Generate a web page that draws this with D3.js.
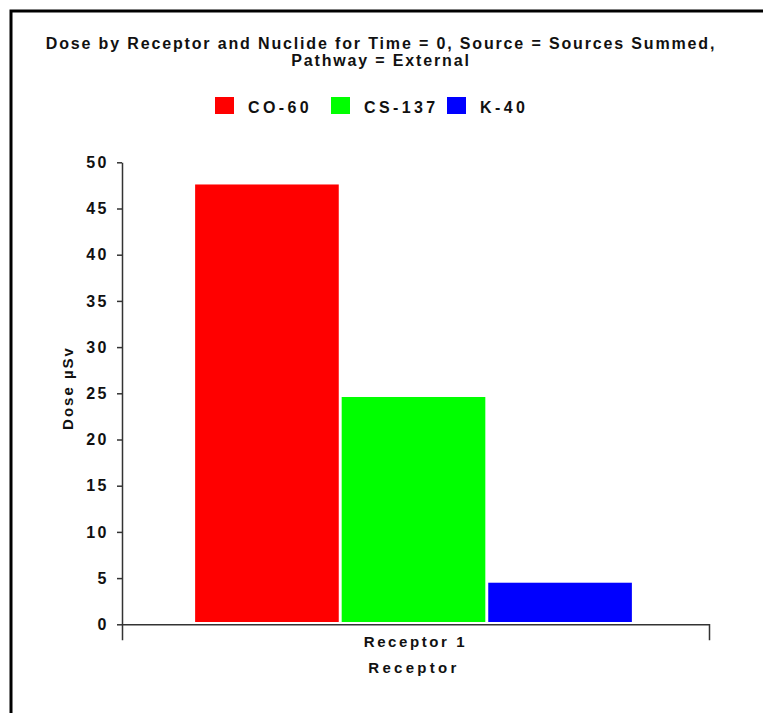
<!DOCTYPE html>
<html>
<head>
<meta charset="utf-8">
<script src="https://cdn.jsdelivr.net/npm/d3@7"></script>
<style>
  body { margin: 0; background: #fff; }
  svg { display: block; font-family: "Liberation Sans", Arial, sans-serif; }
  .axis path, .axis line { stroke: #333; stroke-width: 1.5; }
  .axis text { font-size: 16px; font-weight: bold; fill: #111; }
</style>
</head>
<body>
<script>
  // data
  const receptors = ['Receptor 1'];
  const nuclides = ['CO-60', 'CS-137', 'K-40'];
  const doses = [47.6, 24.6, 4.5];
  const colors = ['#ff0000', '#00ff00', '#0000ff'];
  const yTicks = [0, 5, 10, 15, 20, 25, 30, 35, 40, 45, 50];
  const titleLines = ['Dose by Receptor and Nuclide for Time = 0, Source = Sources Summed,', 'Pathway = External'];

  const width = 763;
  const height = 713;
  const margin = { top: 162.3, right: 54, bottom: 88.7, left: 122 };

  const svg = d3.select('body')
    .append('svg')
    .attr('width', width)
    .attr('height', height);

  // frame
  svg.append('rect')
    .attr('x', 11)
    .attr('y', 11)
    .attr('width', 900)
    .attr('height', 900)
    .attr('fill', 'none')
    .attr('stroke', '#000')
    .attr('stroke-width', 3);

  // title
  svg.append('g')
    .selectAll('text')
    .data(titleLines)
    .enter()
    .append('text')
    .attr('x', 381)
    .attr('y', (d, i) => 48.5 + i * 17.5)
    .attr('text-anchor', 'middle')
    .style('font-size', '16px')
    .style('font-weight', 'bold')
    .style('letter-spacing', '1.85px')
    .style('fill', '#111')
    .text(d => d);

  // scales
  const x0 = d3.scaleBand()
    .domain(receptors)
    .range([margin.left, width - margin.right])
    .paddingInner(0)
    .paddingOuter(0.172);

  const x1 = d3.scaleBand()
    .domain(nuclides)
    .range([0, x0.bandwidth()])
    .paddingInner(0.02);

  const y = d3.scaleLinear()
    .domain([0, 50])
    .range([height - margin.bottom, margin.top]);

  const color = d3.scaleOrdinal().domain(nuclides).range(colors);

  // bars
  svg.append('g')
    .selectAll('g')
    .data(receptors)
    .enter()
    .append('g')
    .attr('transform', d => `translate(${x0(d) - 2}, 0)`)
    .selectAll('rect')
    .data(() => nuclides.map((n, i) => ({ n, v: doses[i] })))
    .enter()
    .append('rect')
    .attr('x', d => x1(d.n))
    .attr('width', x1.bandwidth())
    .attr('y', d => y(d.v))
    .attr('height', d => y(0) - 2.3 - y(d.v))
    .attr('fill', d => color(d.n));

  // y axis
  const yAxis = svg.append('g')
    .attr('class', 'axis')
    .attr('transform', `translate(${margin.left}, 0)`)
    .call(d3.axisLeft(y).tickValues(yTicks).tickSizeInner(5).tickSizeOuter(0).tickPadding(8));
  yAxis.selectAll('text')
    .style('letter-spacing', '2.5px');

  // x axis
  const xAxis = svg.append('g')
    .attr('class', 'axis')
    .attr('transform', `translate(0, ${y(0)})`)
    .call(d3.axisBottom(x0).tickSizeInner(0).tickSizeOuter(16).tickPadding(12));
  xAxis.selectAll('text')
    .style('font-size', '15px')
    .style('letter-spacing', '2.6px');

  // axis titles
  svg.append('text')
    .attr('x', 414)
    .attr('y', 673)
    .attr('text-anchor', 'middle')
    .style('font-size', '15px')
    .style('font-weight', 'bold')
    .style('letter-spacing', '3.3px')
    .style('fill', '#111')
    .text('Receptor');

  svg.append('text')
    .attr('transform', 'translate(73, 388) rotate(-90)')
    .attr('text-anchor', 'middle')
    .style('font-size', '15px')
    .style('font-weight', 'bold')
    .style('letter-spacing', '2px')
    .style('fill', '#111')
    .text('Dose µSv');

  // legend
  const legendX = [215, 331, 447];
  const leg = svg.append('g')
    .selectAll('g')
    .data(nuclides)
    .enter()
    .append('g')
    .attr('transform', (d, i) => `translate(${legendX[i]}, 97)`);

  leg.append('rect')
    .attr('width', 19)
    .attr('height', 17)
    .attr('fill', d => color(d));

  leg.append('text')
    .attr('x', 33)
    .attr('y', 16)
    .style('font-size', '16px')
    .style('font-weight', 'bold')
    .style('letter-spacing', '3.4px')
    .style('fill', '#111')
    .text(d => d);
</script>
</body>
</html>
